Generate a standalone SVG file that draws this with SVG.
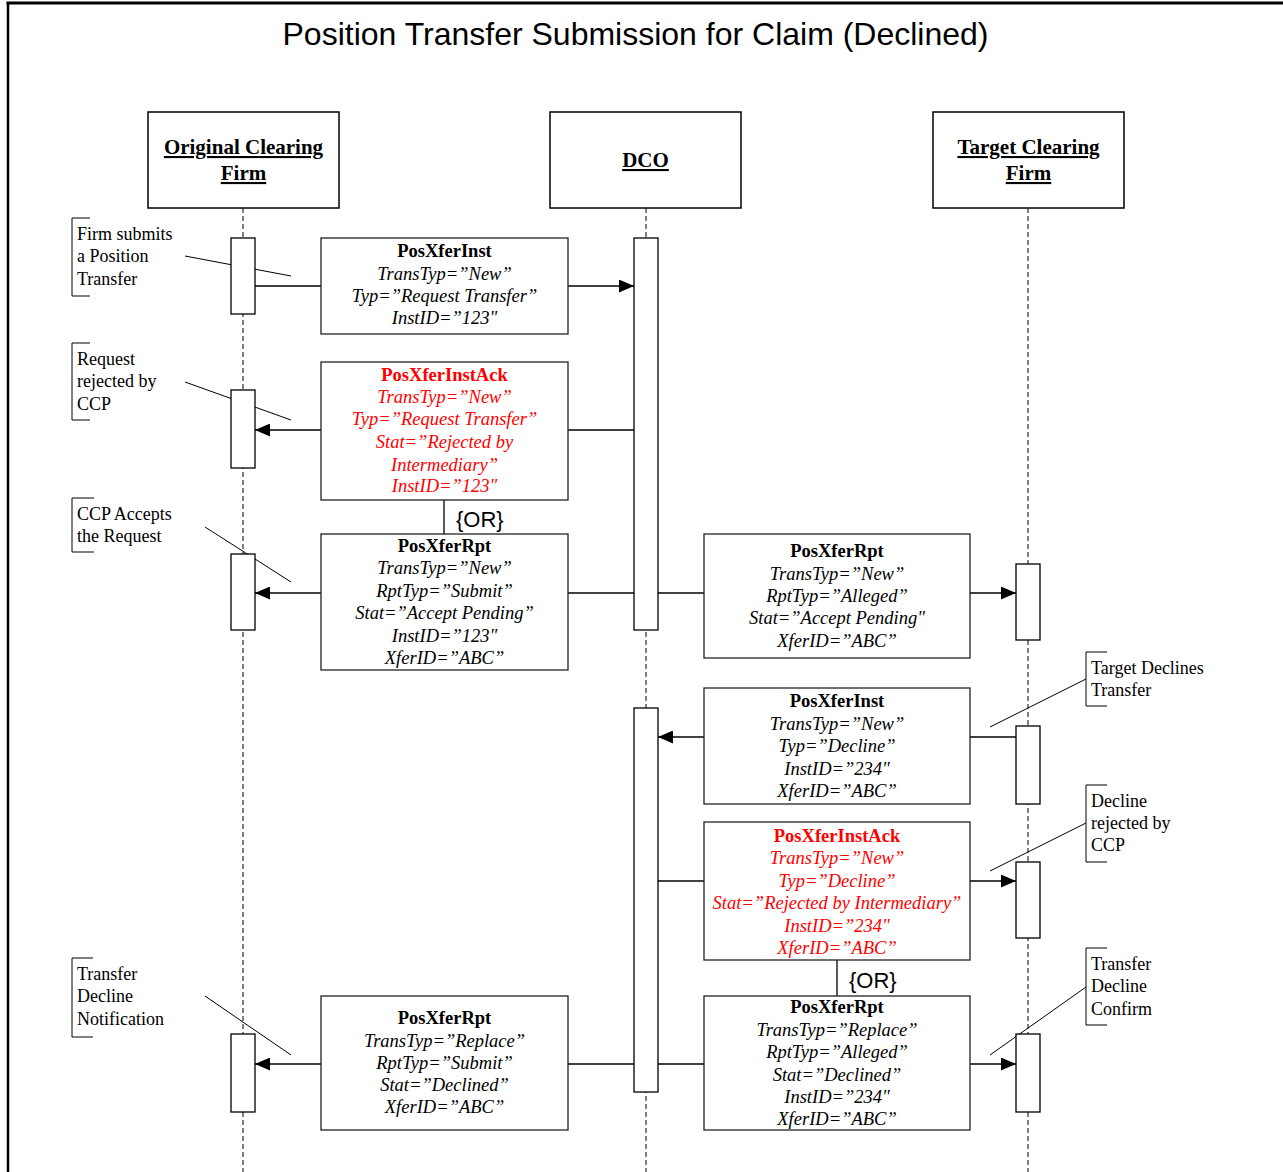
<svg xmlns="http://www.w3.org/2000/svg" width="1283" height="1172" viewBox="0 0 1283 1172">
<style>
.frame{stroke:#000;fill:none}
.hdr{fill:#fff;stroke:#000;stroke-width:1.5}
.ht{font-family:"Liberation Serif","Times New Roman",serif;font-weight:bold;font-size:21px;text-anchor:middle;text-decoration:underline;fill:#000}
.life{stroke:#000;stroke-width:1;stroke-dasharray:5,3;fill:none}
.bar{fill:#fff;stroke:#000;stroke-width:1.3}
.msg{fill:#fff;stroke:#222;stroke-width:1.3}
.mt{font-family:"Liberation Serif","Times New Roman",serif;font-size:18.5px;text-anchor:middle;fill:#000}
.mt .b{font-weight:bold}
.mt .i{font-style:italic}
.red{fill:#ff0000}
.note{font-family:"Liberation Serif","Times New Roman",serif;font-size:18px;fill:#000}
.brk{fill:none;stroke:#000;stroke-width:1}
.pt{stroke:#000;stroke-width:1;fill:none}
.con{stroke:#000;stroke-width:1.3;fill:none}
.or{font-family:"Liberation Sans",Arial,sans-serif;font-size:22px;fill:#000}
</style>
<defs>
<marker id="ah" markerWidth="15" markerHeight="13" refX="15" refY="6.5" orient="auto" markerUnits="userSpaceOnUse">
<path d="M0,0 L15,6.5 L0,13 Z" fill="#000"/>
</marker>
</defs>
<rect x="0" y="0" width="1283" height="1172" fill="#fff"/>
<g id="frame">
<line class="frame" x1="6.5" y1="3" x2="1283" y2="3" stroke-width="3"/>
<line class="frame" x1="8" y1="2" x2="8" y2="1172" stroke-width="2.5"/>
<text x="635.5" y="45" font-family="'Liberation Sans',Arial,sans-serif" font-size="32" text-anchor="middle" fill="#000">Position Transfer Submission for Claim (Declined)</text>
</g>
<g id="lifelines">
<line class="life" x1="243" y1="208" x2="243" y2="1172"/>
<line class="life" x1="646" y1="208" x2="646" y2="1172"/>
<line class="life" x1="1028" y1="208" x2="1028" y2="1172"/>
</g>
<g id="hdr-original">
<rect class="hdr" x="148" y="112" width="191" height="96"/>
<text class="ht" x="243.5" y="154">Original Clearing</text>
<text class="ht" x="243.5" y="180">Firm</text>
</g>
<g id="hdr-dco">
<rect class="hdr" x="550" y="112" width="191" height="96"/>
<text class="ht" x="645.5" y="167">DCO</text>
</g>
<g id="hdr-target">
<rect class="hdr" x="933" y="112" width="191" height="96"/>
<text class="ht" x="1028.5" y="154">Target Clearing</text>
<text class="ht" x="1028.5" y="180">Firm</text>
</g>
<g id="annotation-lines">
<line class="pt" x1="185" y1="256" x2="291" y2="276"/>
<line class="pt" x1="185" y1="382" x2="291" y2="420"/>
<line class="pt" x1="205" y1="527" x2="291" y2="582"/>
<line class="pt" x1="205" y1="996" x2="291" y2="1055"/>
<line class="pt" x1="1086" y1="679" x2="990" y2="727"/>
<line class="pt" x1="1086" y1="823" x2="990" y2="871"/>
<line class="pt" x1="1086" y1="987" x2="990" y2="1055"/>
</g>
<g id="connectors">
<line class="con" x1="255" y1="286" x2="321" y2="286"/>
<line class="con" x1="568" y1="286" x2="634" y2="286" marker-end="url(#ah)"/>
<line class="con" x1="634" y1="430" x2="568" y2="430"/>
<line class="con" x1="321" y1="430" x2="255" y2="430" marker-end="url(#ah)"/>
<line class="con" x1="444" y1="500" x2="444" y2="534"/>
<line class="con" x1="634" y1="593" x2="568" y2="593"/>
<line class="con" x1="321" y1="593" x2="255" y2="593" marker-end="url(#ah)"/>
<line class="con" x1="658" y1="593" x2="704" y2="593"/>
<line class="con" x1="970" y1="593" x2="1016" y2="593" marker-end="url(#ah)"/>
<line class="con" x1="1016" y1="737" x2="970" y2="737"/>
<line class="con" x1="704" y1="737" x2="658" y2="737" marker-end="url(#ah)"/>
<line class="con" x1="658" y1="881" x2="704" y2="881"/>
<line class="con" x1="970" y1="881" x2="1016" y2="881" marker-end="url(#ah)"/>
<line class="con" x1="837" y1="960" x2="837" y2="996"/>
<line class="con" x1="658" y1="1064" x2="704" y2="1064"/>
<line class="con" x1="970" y1="1064" x2="1016" y2="1064" marker-end="url(#ah)"/>
<line class="con" x1="634" y1="1064" x2="568" y2="1064"/>
<line class="con" x1="321" y1="1064" x2="255" y2="1064" marker-end="url(#ah)"/>
</g>
<g id="activations">
<rect class="bar" x="231" y="238" width="24" height="76"/>
<rect class="bar" x="231" y="390" width="24" height="78"/>
<rect class="bar" x="231" y="554" width="24" height="76"/>
<rect class="bar" x="231" y="1034" width="24" height="78"/>
<rect class="bar" x="634" y="238" width="24" height="392"/>
<rect class="bar" x="634" y="708" width="24" height="384"/>
<rect class="bar" x="1016" y="564" width="24" height="76"/>
<rect class="bar" x="1016" y="726" width="24" height="78"/>
<rect class="bar" x="1016" y="862" width="24" height="76"/>
<rect class="bar" x="1016" y="1034" width="24" height="78"/>
</g>
<g id="msg1">
<rect class="msg" x="321" y="238" width="247" height="96"/>
<text class="mt"><tspan class="b" x="444.5" y="257">PosXferInst</tspan><tspan class="i" x="444.5" y="280">TransTyp=”New”</tspan><tspan class="i" x="444.5" y="302">Typ=”Request Transfer”</tspan><tspan class="i" x="444.5" y="324">InstID=”123"</tspan></text>
</g>
<g id="msg2">
<rect class="msg" x="321" y="362" width="247" height="138"/>
<text class="mt red"><tspan class="b" x="444.5" y="381">PosXferInstAck</tspan><tspan class="i" x="444.5" y="403">TransTyp=”New”</tspan><tspan class="i" x="444.5" y="425">Typ=”Request Transfer”</tspan><tspan class="i" x="444.5" y="448">Stat=”Rejected by</tspan><tspan class="i" x="444.5" y="471">Intermediary”</tspan><tspan class="i" x="444.5" y="492">InstID=”123"</tspan></text>
</g>
<g id="or1"><text class="or" x="456" y="527">{OR}</text></g>
<g id="msg3">
<rect class="msg" x="321" y="534" width="247" height="136"/>
<text class="mt"><tspan class="b" x="444.5" y="552">PosXferRpt</tspan><tspan class="i" x="444.5" y="574">TransTyp=”New”</tspan><tspan class="i" x="444.5" y="597">RptTyp=”Submit”</tspan><tspan class="i" x="444.5" y="619">Stat=”Accept Pending”</tspan><tspan class="i" x="444.5" y="642">InstID=”123"</tspan><tspan class="i" x="444.5" y="664">XferID=”ABC”</tspan></text>
</g>
<g id="msg4">
<rect class="msg" x="704" y="534" width="266" height="124"/>
<text class="mt"><tspan class="b" x="837" y="557">PosXferRpt</tspan><tspan class="i" x="837" y="580">TransTyp=”New”</tspan><tspan class="i" x="837" y="602">RptTyp=”Alleged”</tspan><tspan class="i" x="837" y="624">Stat=”Accept Pending"</tspan><tspan class="i" x="837" y="647">XferID=”ABC”</tspan></text>
</g>
<g id="msg5">
<rect class="msg" x="704" y="688" width="266" height="116"/>
<text class="mt"><tspan class="b" x="837" y="707">PosXferInst</tspan><tspan class="i" x="837" y="730">TransTyp=”New”</tspan><tspan class="i" x="837" y="752">Typ=”Decline”</tspan><tspan class="i" x="837" y="775">InstID=”234"</tspan><tspan class="i" x="837" y="797">XferID=”ABC”</tspan></text>
</g>
<g id="msg6">
<rect class="msg" x="704" y="822" width="266" height="138"/>
<text class="mt red"><tspan class="b" x="837" y="842">PosXferInstAck</tspan><tspan class="i" x="837" y="864">TransTyp=”New”</tspan><tspan class="i" x="837" y="887">Typ=”Decline”</tspan><tspan class="i" x="837" y="909">Stat=”Rejected by Intermediary”</tspan><tspan class="i" x="837" y="932">InstID=”234"</tspan><tspan class="i" x="837" y="954">XferID=”ABC”</tspan></text>
</g>
<g id="or2"><text class="or" x="849" y="988">{OR}</text></g>
<g id="msg7">
<rect class="msg" x="704" y="996" width="266" height="134"/>
<text class="mt"><tspan class="b" x="837" y="1013">PosXferRpt</tspan><tspan class="i" x="837" y="1036">TransTyp=”Replace”</tspan><tspan class="i" x="837" y="1058">RptTyp=”Alleged”</tspan><tspan class="i" x="837" y="1081">Stat=”Declined”</tspan><tspan class="i" x="837" y="1103">InstID=”234"</tspan><tspan class="i" x="837" y="1125">XferID=”ABC”</tspan></text>
</g>
<g id="msg8">
<rect class="msg" x="321" y="996" width="247" height="134"/>
<text class="mt"><tspan class="b" x="444.5" y="1024">PosXferRpt</tspan><tspan class="i" x="444.5" y="1047">TransTyp=”Replace”</tspan><tspan class="i" x="444.5" y="1069">RptTyp=”Submit”</tspan><tspan class="i" x="444.5" y="1091">Stat=”Declined”</tspan><tspan class="i" x="444.5" y="1113">XferID=”ABC”</tspan></text>
</g>
<g id="note1">
<path class="brk" d="M90,218 H72 V296 H90"/>
<text class="note"><tspan x="77" y="240">Firm submits</tspan><tspan x="77" y="262">a Position</tspan><tspan x="77" y="285">Transfer</tspan></text>
</g>
<g id="note2">
<path class="brk" d="M90,343 H72 V420 H90"/>
<text class="note"><tspan x="77" y="365">Request</tspan><tspan x="77" y="387">rejected by</tspan><tspan x="77" y="410">CCP</tspan></text>
</g>
<g id="note3">
<path class="brk" d="M94,498 H72 V552 H94"/>
<text class="note"><tspan x="77" y="520">CCP Accepts</tspan><tspan x="77" y="542">the Request</tspan></text>
</g>
<g id="note4">
<path class="brk" d="M93,958 H72 V1037 H93"/>
<text class="note"><tspan x="77" y="980">Transfer</tspan><tspan x="77" y="1002">Decline</tspan><tspan x="77" y="1025">Notification</tspan></text>
</g>
<g id="note5">
<path class="brk" d="M1107,652 H1086 V706 H1107"/>
<text class="note"><tspan x="1091" y="674">Target Declines</tspan><tspan x="1091" y="696">Transfer</tspan></text>
</g>
<g id="note6">
<path class="brk" d="M1107,785 H1086 V862 H1107"/>
<text class="note"><tspan x="1091" y="807">Decline</tspan><tspan x="1091" y="829">rejected by</tspan><tspan x="1091" y="851">CCP</tspan></text>
</g>
<g id="note7">
<path class="brk" d="M1107,948 H1086 V1025 H1107"/>
<text class="note"><tspan x="1091" y="970">Transfer</tspan><tspan x="1091" y="992">Decline</tspan><tspan x="1091" y="1015">Confirm</tspan></text>
</g>
</svg>
